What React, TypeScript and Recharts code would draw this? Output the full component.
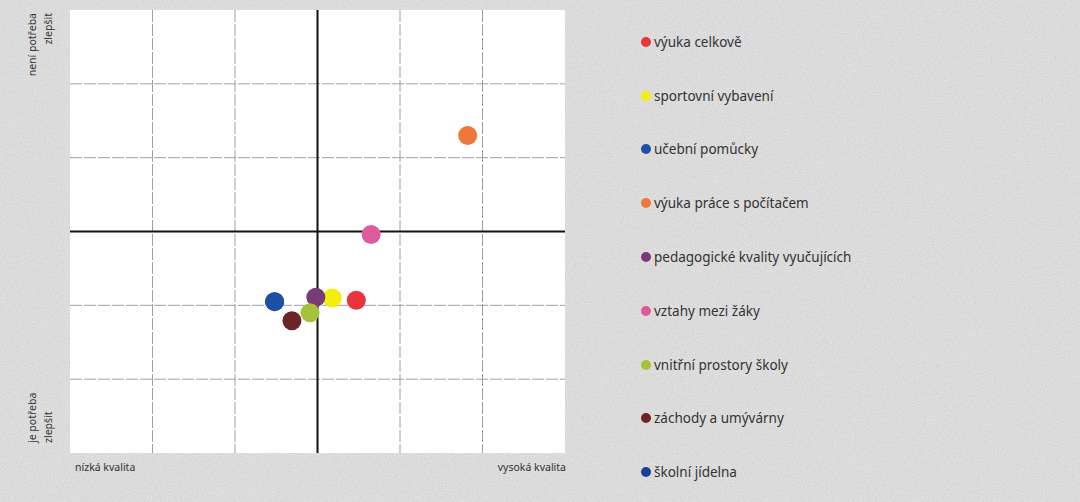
import React from "react";
import {
  ScatterChart,
  Scatter,
  XAxis,
  YAxis,
  CartesianGrid,
  ReferenceLine,
} from "recharts";

const categories = [
  "výuka celkově",
  "sportovní vybavení",
  "učební pomůcky",
  "výuka práce s počítačem",
  "pedagogické kvality vyučujících",
  "vztahy mezi žáky",
  "vnitřní prostory školy",
  "záchody a umývárny",
  "školní jídelna",
];
const xValues = [0.47, 0.18, -0.52, 1.82, -0.02, 0.65, -0.09, -0.31, -0.52];
const yValues = [-0.93, -0.9, -0.95, 1.3, -0.89, -0.04, -1.1, -1.21, -0.95];
const colors = [
  "#e8343c",
  "#f4ee0c",
  "#1d4fa6",
  "#f0773a",
  "#7a3a78",
  "#de5a9a",
  "#a6c23a",
  "#6a2626",
  "#1b3f98",
];
const ticks = [-3, -2, -1, 0, 1, 2, 3];
const gridValues = [-2, -1, 1, 2];
const axisLabels = {
  top: ["není potřeba", "zlepšit"],
  bottom: ["je potřeba", "zlepšit"],
  left: "nízká kvalita",
  right: "vysoká kvalita",
};

// draw order: jídelna first so učební pomůcky sits on top of it
const drawOrder = [8, 0, 1, 2, 3, 5, 4, 6, 7];

const Dot = (props: any) => {
  const { cx, cy, fill } = props;
  if (cx == null || cy == null) return null;
  return <circle cx={cx} cy={cy} r={9.5} fill={fill} />;
};

const LegendBox = () => (
  <div
    style={{
      position: "absolute",
      left: 641,
      top: 15,
      fontFamily: "'Noto Sans', sans-serif",
      fontSize: 13.5,
      color: "#333",
    }}
  >
    {categories.map((c, i) => (
      <div key={c} style={{ height: 53.8, display: "flex", alignItems: "center" }}>
        <span
          style={{
            display: "inline-block",
            width: 10,
            height: 10,
            borderRadius: 5,
            background: colors[i],
            marginRight: 3,
          }}
        />
        <span>{c}</span>
      </div>
    ))}
  </div>
);

export default function App() {
  const font = "'Noto Sans', sans-serif";
  return (
    <div
      style={{
        position: "absolute",
        left: 0,
        top: 0,
        width: 1080,
        height: 502,
        background: "#dedede",
        overflow: "hidden",
      }}
    >
      <svg width={1080} height={502} style={{ position: "absolute", left: 0, top: 0 }}>
        <filter id="noise">
          <feTurbulence type="fractalNoise" baseFrequency="0.9" numOctaves="2" seed="3" />
          <feColorMatrix type="saturate" values="0" />
          <feComponentTransfer>
            <feFuncA type="linear" slope="0.35" />
          </feComponentTransfer>
        </filter>
        <rect width={1080} height={502} fill="#e2e2e2" />
        <rect width={1080} height={502} filter="url(#noise)" />
      </svg>
      <div style={{ position: "absolute", left: 0, top: 0 }}>
        <ScatterChart
          width={1080}
          height={502}
          margin={{ top: 10, right: 515, bottom: 49, left: 70 }}
        >
          <CartesianGrid
            fill="#ffffff"
            fillOpacity={1}
            stroke="#a0a0a0"
            strokeDasharray="12 2"
            horizontalValues={gridValues}
            verticalValues={gridValues}
          />
          <XAxis type="number" dataKey="x" domain={[-3, 3]} ticks={ticks} hide />
          <YAxis type="number" dataKey="y" domain={[-3, 3]} ticks={ticks} hide />
          <ReferenceLine x={0} stroke="#111" strokeWidth={2} />
          <ReferenceLine y={0} stroke="#111" strokeWidth={2} />
          {drawOrder.map((i) => (
            <Scatter
              key={categories[i]}
              name={categories[i]}
              data={[{ x: xValues[i], y: yValues[i] }]}
              fill={colors[i]}
              shape={<Dot />}
              isAnimationActive={false}
            />
          ))}
          <text x={75} y={471} fontFamily={font} fontSize={10.5} fill="#333">
            {axisLabels.left}
          </text>
          <text x={566} y={471} textAnchor="end" fontFamily={font} fontSize={10.5} fill="#333">
            {axisLabels.right}
          </text>
          <text transform="translate(36,13) rotate(-90)" textAnchor="end" fontFamily={font} fontSize={10.5} fill="#333">
            {axisLabels.top[0]}
          </text>
          <text transform="translate(52,13) rotate(-90)" textAnchor="end" fontFamily={font} fontSize={10.5} fill="#333">
            {axisLabels.top[1]}
          </text>
          <text transform="translate(36,443) rotate(-90)" textAnchor="start" fontFamily={font} fontSize={10.5} fill="#333">
            {axisLabels.bottom[0]}
          </text>
          <text transform="translate(52,443) rotate(-90)" textAnchor="start" fontFamily={font} fontSize={10.5} fill="#333">
            {axisLabels.bottom[1]}
          </text>
        </ScatterChart>
      </div>
      <LegendBox />
    </div>
  );
}
